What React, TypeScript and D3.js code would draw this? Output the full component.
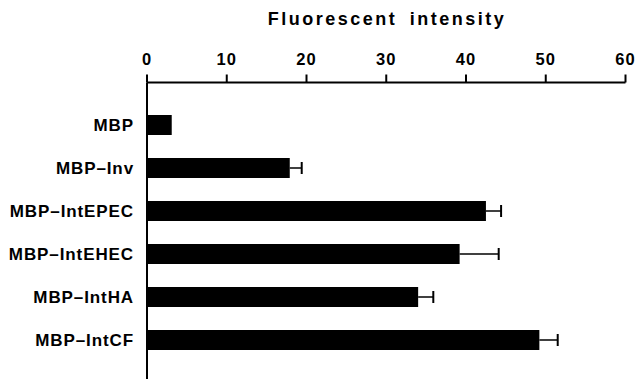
import React, { useEffect, useRef } from "react";
import * as d3 from "d3";

const categories = ["MBP", "MBP–Inv", "MBP–IntEPEC", "MBP–IntEHEC", "MBP–IntHA", "MBP–IntCF"];
const values = [3.1, 17.9, 42.5, 39.2, 34.0, 49.2];
const errors = [0, 1.5, 1.9, 4.9, 1.9, 2.3];
const tickValues = [0, 10, 20, 30, 40, 50, 60];
const axisTitle = "Fluorescent intensity";

const App = () => {
  const svgRef = useRef<SVGSVGElement | null>(null);

  useEffect(() => {
    if (!svgRef.current) return;
    const svg = d3.select(svgRef.current);
    svg.selectAll("*").remove();

    const font = "'Liberation Sans', Arial, Helvetica, sans-serif";
    const axisY = 82.5;

    const x = d3.scaleLinear().domain([0, 60]).range([147, 625.5]);
    const y = d3
      .scaleBand()
      .domain(categories)
      .range([103.5, 361.5])
      .paddingInner(0.535)
      .paddingOuter(0.2675);

    // Title
    svg
      .append("text")
      .attr("x", 387)
      .attr("y", 24.5)
      .attr("text-anchor", "middle")
      .attr("font-family", font)
      .attr("font-weight", "bold")
      .attr("font-size", 18)
      .attr("letter-spacing", 2.5)
      .attr("word-spacing", 5)
      .attr("fill", "#000")
      .text(axisTitle);

    // Top axis
    const axis = svg.append("g").attr("stroke", "#000").attr("stroke-width", 2);
    axis
      .append("line")
      .attr("x1", x(0))
      .attr("x2", x(60))
      .attr("y1", axisY)
      .attr("y2", axisY);
    axis
      .selectAll("line.tick")
      .data(tickValues)
      .join("line")
      .attr("class", "tick")
      .attr("x1", (d) => x(d))
      .attr("x2", (d) => x(d))
      .attr("y1", axisY)
      .attr("y2", axisY - 8);
    axis
      .append("line")
      .attr("x1", x(0))
      .attr("x2", x(0))
      .attr("y1", axisY)
      .attr("y2", 379);

    svg
      .append("g")
      .selectAll("text")
      .data(tickValues)
      .join("text")
      .attr("x", (d) => x(d))
      .attr("y", 65)
      .attr("text-anchor", "middle")
      .attr("font-family", font)
      .attr("font-weight", "bold")
      .attr("font-size", 16.5)
      .attr("letter-spacing", 1)
      .attr("fill", "#000")
      .text((d) => d);

    // Bars
    svg
      .append("g")
      .selectAll("rect")
      .data(categories)
      .join("rect")
      .attr("x", x(0))
      .attr("y", (d) => y(d)!)
      .attr("width", (d, i) => x(values[i]) - x(0))
      .attr("height", y.bandwidth())
      .attr("fill", "#000");

    // Error bars
    const err = svg.append("g").attr("stroke", "#000");
    categories.forEach((c, i) => {
      if (!errors[i]) return;
      const cy = y(c)! + y.bandwidth() / 2;
      err
        .append("line")
        .attr("x1", x(values[i]))
        .attr("x2", x(values[i] + errors[i]))
        .attr("y1", cy)
        .attr("y2", cy)
        .attr("stroke-width", 1.5);
      err
        .append("line")
        .attr("x1", x(values[i] + errors[i]))
        .attr("x2", x(values[i] + errors[i]))
        .attr("y1", cy - 6)
        .attr("y2", cy + 6)
        .attr("stroke-width", 2);
    });

    // Category labels
    svg
      .append("g")
      .selectAll("text")
      .data(categories)
      .join("text")
      .attr("x", 134)
      .attr("y", (d) => y(d)! + y.bandwidth() / 2 + 6)
      .attr("text-anchor", "end")
      .attr("font-family", font)
      .attr("font-weight", "bold")
      .attr("font-size", 17)
      .attr("letter-spacing", 0.9)
      .attr("fill", "#000")
      .text((d) => d);
  }, []);

  return (
    <svg
      ref={svgRef}
      width={636}
      height={379}
      style={{ position: "absolute", left: 0, top: 0, background: "#fff" }}
    />
  );
};

export default App;
